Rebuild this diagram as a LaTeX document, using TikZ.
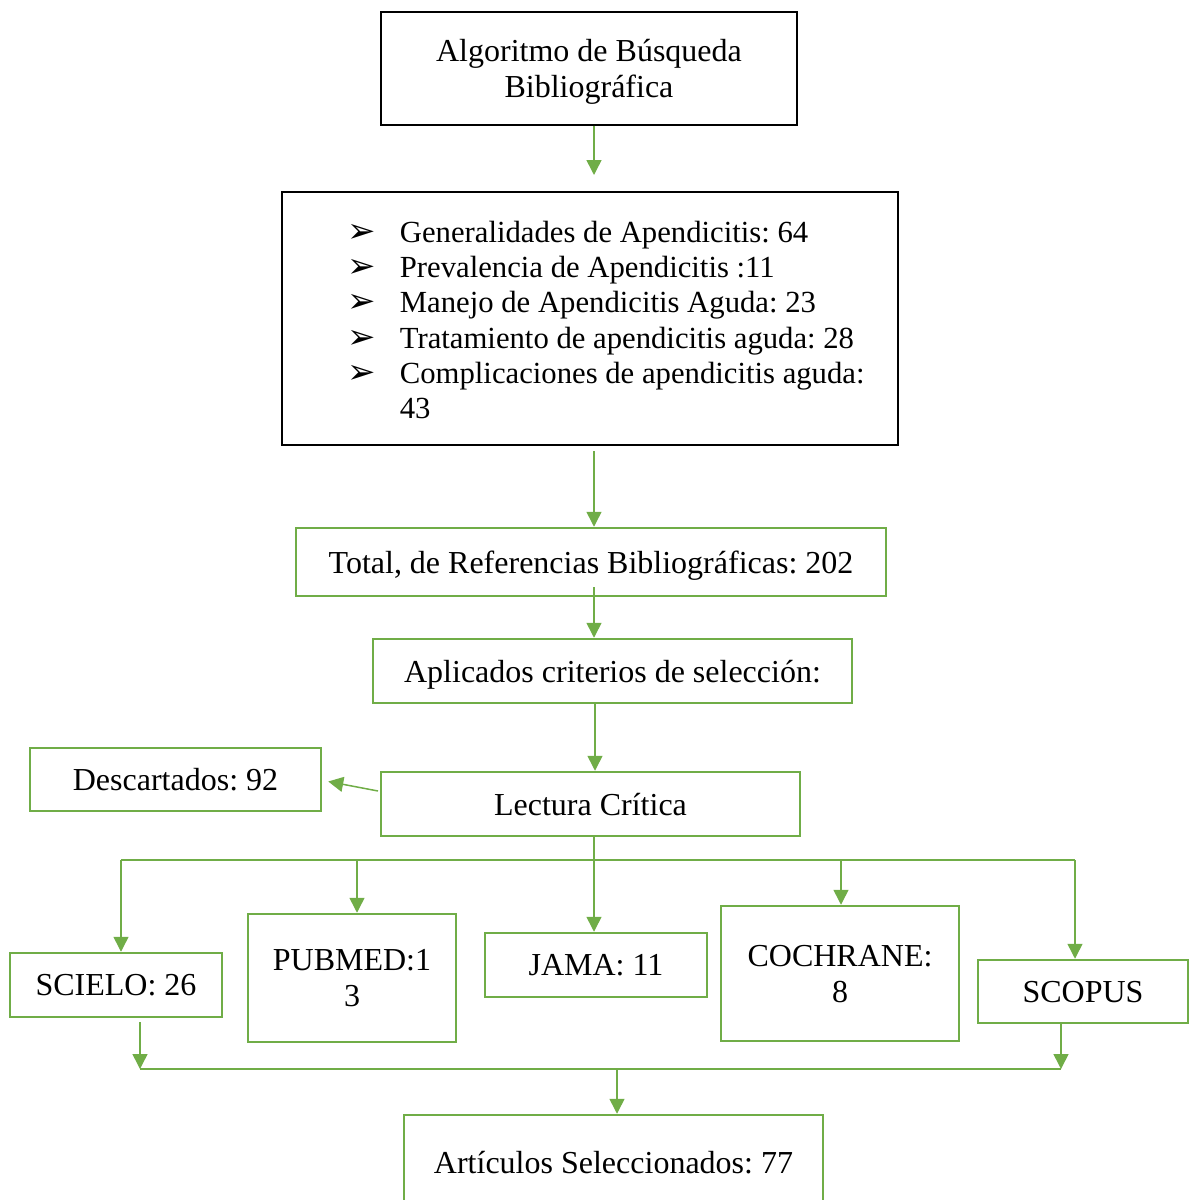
\documentclass[tikz,border=0pt]{standalone}
\usepackage{fontspec}
\setmainfont{Liberation Serif}
\newfontfamily\dejavu{DejaVu Sans}
\usetikzlibrary{arrows.meta,calc}
\definecolor{gr}{HTML}{70AD47}
\newcommand{\blt}{{\dejavu\fontsize{17}{17}\selectfont ➢}}
\begin{document}
\frenchspacing
\begin{tikzpicture}[x=0.5pt,y=-0.5pt,
  txt/.style={font=\fontsize{16}{18}\selectfont, align=center, text depth=0pt},
  gbox/.style={txt, draw=gr, line width=1.25pt, inner sep=0pt},
  kbox/.style={txt, draw=black, line width=1pt, inner sep=0pt},
  ln/.style={draw=gr, line width=0.75pt},
  arr/.style={ln, -{Triangle[width=7.5pt,length=7.5pt]}}]
\useasboundingbox (0,0) rectangle (1190,1200);
\clip (0,0) rectangle (1190,1200);
% boxes
\node[kbox, minimum width=208pt, minimum height=56.5pt] (b1) at (589,68) {Algoritmo de Búsqueda\\Bibliográfica};
\node[kbox, minimum width=308pt, minimum height=126.5pt] (b2) at (590,318.5) {};
\node[font=\fontsize{15.35}{17.65}\selectfont, align=left, anchor=north west, inner sep=0pt] (lst) at (347,217) {%
  \begin{tabular}{@{}l@{\hspace{12pt}}l@{}}
  \blt & Generalidades de Apendicitis: 64\\
  \blt & Prevalencia de Apendicitis :11\\
  \blt & Manejo de Apendicitis Aguda: 23\\
  \blt & Tratamiento de apendicitis aguda: 28\\
  \blt & Complicaciones de apendicitis aguda:\\
  & 43
  \end{tabular}};
\node[gbox, minimum width=295pt, minimum height=34pt] (b3) at (591,562) {Total, de Referencias Bibliográficas: 202};
\node[gbox, minimum width=239.5pt, minimum height=32pt] (b4) at (612.5,671) {Aplicados criterios de selección:};
\node[gbox, minimum width=209.5pt, minimum height=32pt] (lec) at (590.5,804) {Lectura Crítica};
\node[gbox, minimum width=145.5pt, minimum height=31.5pt] (desc) at (175.5,779.5) {Descartados: 92};
\node[gbox, minimum width=106pt, minimum height=32pt] (sci) at (116,985) {SCIELO: 26};
\node[gbox, minimum width=104pt, minimum height=64pt] (pub) at (352,978) {PUBMED:1\\3};
\node[gbox, minimum width=111pt, minimum height=32pt] (jama) at (596,965) {JAMA: 11};
\node[gbox, minimum width=119pt, minimum height=67.5pt] (coch) at (840,973.5) {COCHRANE:\\8};
\node[gbox, minimum width=105pt, minimum height=31.5pt] (scop) at (1083,991.5) {SCOPUS};
\node[gbox, minimum width=209.5pt, minimum height=47.5pt] (fin) at (613.5,1162.5) {Artículos Seleccionados: 77};
% coordinates
\coordinate (x594) at (594,0);
\coordinate (x595) at (595,0);
\coordinate (a1) at (594,175);
\coordinate (h1) at (121,860);
\coordinate (h2) at (1075,860);
\coordinate (hp) at (357,860);
\coordinate (hc) at (841,860);
\coordinate (g1) at (140,1069);
\coordinate (g2) at (1061,1069);
\coordinate (gm) at (617,1069);
\coordinate (ds) at (378,791);
% connectors
\draw[arr] (b1.south -| x594) -- (a1);
\draw[arr] ($(b2.south -| x594)+(0,5)$) -- (b3.north -| x594);
\draw[arr] ($(b3.south -| x594)+(0,-10)$) -- (b4.north -| x594);
\draw[arr] (b4.south -| x595) -- (lec.north -| x595);
\draw[arr] (ds) -- ($(desc.east)+(6,2)$);
\draw[arr] (lec.south -| x594) -- (jama.north -| x594);
\draw[ln] (h1) -- (h2);
\draw[arr] (h1) -- (h1 |- sci.north);
\draw[arr] (hp) -- (hp |- pub.north);
\draw[arr] (hc) -- (hc |- coch.north);
\draw[arr] (h2) -- (h2 |- scop.north);
\draw[ln] (g1) -- (g2);
\draw[arr] ($(sci.south -| g1)+(0,4)$) -- (g1);
\draw[arr] (scop.south -| g2) -- (g2);
\draw[arr] (gm) -- (fin.north -| gm);
\end{tikzpicture}
\end{document}
